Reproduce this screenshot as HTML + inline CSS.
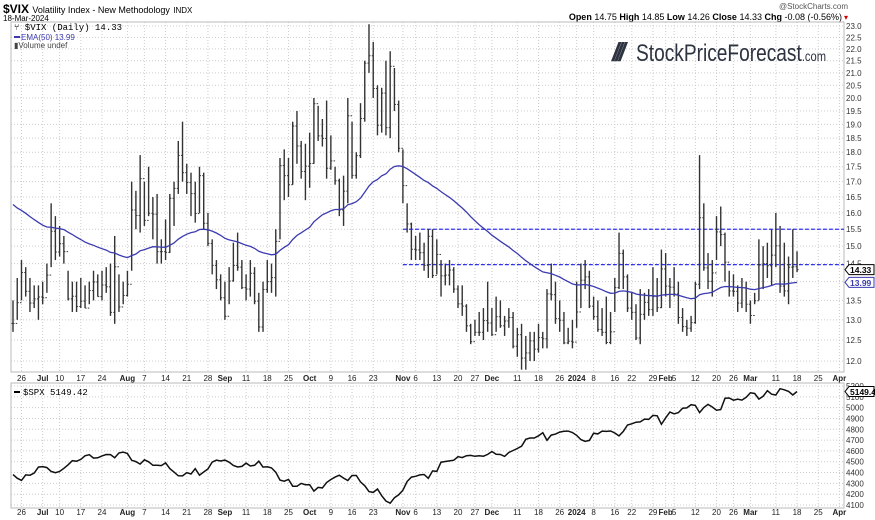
<!DOCTYPE html>
<html><head><meta charset="utf-8">
<style>
body{margin:0;background:#fff;}
svg{display:block;font-family:"Liberation Sans",sans-serif;}
</style></head>
<body>
<svg id="chart" width="875" height="520" viewBox="0 0 875 520">
  <rect x="0" y="0" width="875" height="520" fill="#fff"/>
  <text x="3" y="13" font-size="12" font-weight="bold" fill="#000">$VIX <tspan font-size="9" font-weight="normal">Volatility Index - New Methodology</tspan> <tspan font-size="8" font-weight="normal">INDX</tspan></text>
  <text x="3" y="21" font-size="8" fill="#000">18-Mar-2024</text>
  <text x="848" y="9" font-size="8" fill="#555" text-anchor="end">@StockCharts.com</text>
  <text x="842" y="20" font-size="9" fill="#000" text-anchor="end"><tspan font-weight="bold">Open</tspan> 14.75 <tspan font-weight="bold">High</tspan> 14.85 <tspan font-weight="bold">Low</tspan> 14.26 <tspan font-weight="bold">Close</tspan> 14.33 <tspan font-weight="bold">Chg</tspan> -0.08 (-0.56%)</text>
  <text x="848" y="20" font-size="8" fill="#c00" text-anchor="end">▾</text>
  <g id="grid"></g>
  <rect x="11" y="22" width="833" height="350" fill="none" stroke="#bbb"/>
  <rect x="11" y="383" width="833" height="125" fill="none" stroke="#bbb"/>
  <g>
    <text x="612" y="61" font-size="26" font-weight="bold" fill="#2d3340" font-style="italic" letter-spacing="-4">///</text>
    <text x="636" y="61" font-size="24" fill="#2d3340" textLength="190" lengthAdjust="spacingAndGlyphs">StockPriceForecast<tspan font-size="14">.com</tspan></text>
  </g>
  <g id="marks"></g>
  <text x="14" y="30" font-size="9" font-family="Liberation Mono, monospace" fill="#000">⑂ $VIX (Daily) 14.33</text>
  <line x1="14" y1="37" x2="20" y2="37" stroke="#3b3bb0" stroke-width="2"/>
  <text x="21" y="40" font-size="8" fill="#3b3bb0">EMA(50) 13.99</text>
  <text x="14" y="48" font-size="8" fill="#444">▮Volume undef</text>
  <line x1="14" y1="392" x2="20" y2="392" stroke="#000" stroke-width="2"/>
  <text x="23" y="395" font-size="9" font-family="Liberation Mono, monospace" fill="#000">$SPX 5149.42</text>
</svg>
<script>
const vixClose=[12.91,13.44,14.25,13.74,13.43,13.54,13.59,13.57,14.18,15.44,14.83,15.07,14.84,13.54,13.61,13.34,13.48,13.30,13.76,13.99,13.60,13.91,13.86,13.19,14.41,13.33,13.63,13.93,16.09,15.92,17.10,15.77,15.99,15.96,14.84,14.84,14.82,16.46,16.78,17.89,17.30,16.97,16.61,15.98,17.20,15.68,15.08,14.45,14.05,13.57,13.09,14.02,14.45,14.40,13.84,13.80,14.23,13.48,12.82,13.79,14.00,14.11,15.14,17.54,17.20,16.90,18.94,18.22,17.34,17.52,17.61,19.78,18.58,18.49,17.45,17.70,17.03,16.09,16.69,19.32,17.21,17.88,19.22,21.40,21.71,20.37,18.97,20.19,18.88,21.27,19.75,18.14,16.87,15.66,14.91,14.89,14.81,14.45,15.29,14.17,14.76,14.16,14.18,14.32,13.80,13.41,13.35,12.85,12.46,12.69,12.69,12.98,12.92,12.63,13.08,12.85,12.97,13.06,12.35,12.63,12.07,12.19,12.48,12.28,12.56,12.53,13.67,13.65,13.03,12.99,12.43,12.47,12.45,13.20,14.04,14.13,13.35,13.08,12.76,12.69,12.44,12.70,13.84,14.79,14.13,13.30,13.19,12.55,13.14,13.45,13.26,13.60,13.31,14.35,13.88,13.85,13.67,13.06,12.83,12.79,12.93,13.93,15.85,14.38,14.01,14.24,15.42,15.34,14.54,13.75,13.74,13.43,13.84,13.40,13.11,13.49,14.46,14.50,14.44,14.74,15.01,13.88,13.75,14.40,14.41,14.33];
const vixHigh=[13.5,14.1,14.6,14.4,14.1,13.9,13.9,14.0,14.5,16.3,15.9,15.6,15.3,14.3,14.0,14.0,14.1,13.9,14.0,14.3,14.2,14.3,14.4,14.5,15.3,14.2,14.0,14.3,17.0,16.7,17.9,17.0,17.5,16.5,16.6,15.2,15.8,16.6,17.0,18.4,19.1,17.6,17.3,17.0,17.5,17.3,16.0,15.2,14.6,14.2,14.0,14.4,15.1,15.4,14.6,14.2,14.6,14.4,13.7,14.0,14.6,14.5,15.5,17.8,18.1,17.8,19.1,19.5,18.4,18.3,18.7,20.0,19.7,19.2,19.9,18.6,17.5,17.1,17.2,20.0,19.1,18.0,19.8,21.5,23.08,22.3,20.5,20.4,21.5,21.9,21.2,19.9,18.1,16.3,15.7,15.3,15.4,15.1,15.5,15.5,15.2,14.6,14.5,14.6,14.4,13.9,13.9,13.4,12.9,13.0,13.2,13.3,14.0,13.3,13.6,13.5,13.1,13.3,13.2,12.8,12.9,12.6,12.7,12.7,12.9,12.7,13.8,14.5,14.0,13.5,13.2,12.8,13.0,14.0,14.5,14.6,14.3,13.6,13.5,13.3,13.6,13.2,14.1,15.4,14.9,14.2,13.7,13.4,13.8,13.7,13.8,14.4,14.1,14.9,14.8,14.1,14.4,14.0,13.3,13.0,13.1,14.0,17.9,16.3,14.8,14.6,15.9,16.2,15.4,14.3,14.2,13.9,14.1,14.0,13.5,13.7,15.2,15.0,15.1,15.5,16.0,15.6,15.1,14.7,15.5,14.85];
const vixLow=[12.7,13.0,13.5,13.6,13.2,13.3,13.0,13.4,13.7,14.4,14.6,14.7,14.5,13.5,13.2,13.2,13.3,13.3,13.4,13.5,13.6,13.5,13.7,13.1,12.9,13.2,13.4,13.6,14.3,15.5,15.4,15.6,15.9,15.2,14.5,14.5,14.6,14.8,15.6,16.6,17.0,16.6,15.9,15.7,16.0,15.5,15.0,14.2,13.8,13.5,13.0,13.4,14.0,14.3,13.8,13.5,13.6,13.4,12.7,12.7,13.7,13.7,13.6,15.2,16.4,16.5,16.9,17.6,17.1,16.4,16.8,17.6,18.4,18.2,17.1,17.4,16.9,15.9,15.6,16.3,17.1,17.1,17.8,19.1,21.0,20.0,18.6,18.7,18.6,18.5,19.5,18.0,16.3,15.4,14.6,14.6,14.6,14.3,14.1,14.1,14.2,13.6,13.9,13.9,13.7,13.3,13.1,12.7,12.4,12.6,12.6,12.5,12.7,12.6,12.7,12.8,12.6,12.8,12.3,12.1,11.8,11.8,12.0,12.0,12.2,12.3,12.3,13.5,12.9,12.7,12.4,12.4,12.3,12.8,13.3,13.8,13.3,13.0,12.7,12.6,12.4,12.4,13.2,13.8,13.8,13.2,13.0,12.5,12.4,13.0,13.1,13.1,13.2,13.3,13.6,13.3,13.6,12.9,12.7,12.6,12.7,12.9,13.8,14.3,13.8,13.6,14.6,15.0,14.0,13.6,13.6,13.2,13.3,13.2,12.9,13.4,13.5,13.8,14.1,13.9,14.4,13.7,13.6,13.4,14.1,14.26];
const spxClose=[4381,4348,4328,4378,4376,4396,4450,4455,4446,4411,4399,4410,4439,4472,4510,4505,4522,4555,4565,4534,4536,4554,4567,4566,4537,4582,4589,4576,4513,4501,4478,4518,4499,4467,4468,4464,4489,4437,4404,4370,4369,4399,4387,4436,4376,4405,4433,4497,4514,4507,4515,4496,4465,4451,4457,4487,4461,4467,4505,4450,4453,4443,4402,4330,4320,4337,4274,4274,4300,4288,4288,4229,4263,4258,4308,4336,4358,4376,4349,4327,4373,4373,4314,4278,4224,4217,4248,4186,4137,4117,4167,4194,4237,4317,4358,4365,4378,4382,4347,4415,4411,4496,4502,4508,4514,4547,4538,4556,4559,4550,4555,4551,4568,4595,4569,4567,4549,4585,4604,4622,4644,4707,4719,4719,4740,4768,4698,4746,4755,4774,4781,4783,4770,4743,4705,4689,4697,4764,4757,4783,4780,4784,4766,4739,4780,4840,4851,4865,4868,4894,4891,4928,4925,4846,4906,4959,4943,4954,4995,4998,5027,5021,4954,5001,5030,5006,4976,4982,5087,5089,5069,5078,5070,5096,5137,5131,5079,5105,5157,5124,5117,5175,5165,5150,5117,5149];
const xTickLabels=["26","Jul","10","17","24","Aug","7","14","21","28","Sep","11","18","25","Oct","9","16","23","Nov","6","13","20","27","Dec","11","18","26","2024","8","16","22","29","Feb","5","12","20","26","Mar","11","18","25","Apr"];
const xTickIndex=[2,7,11,16,21,27,31,36,41,46,50,55,60,65,70,75,80,85,92,95,100,105,109,113,119,124,129,133,137,142,146,151,154,156,161,166,170,174,180,185,190,195];
const xTickBold=[0,1,0,0,0,1,0,0,0,0,1,0,0,0,1,0,0,0,1,0,0,0,0,1,0,0,0,1,0,0,0,0,1,0,0,0,0,1,0,0,0,1];
const vixTicks=[12,12.5,13,13.5,14,14.5,15,15.5,16,16.5,17,17.5,18,18.5,19,19.5,20,20.5,21,21.5,22,22.5,23];
const spxTicks=[4100,4200,4300,4400,4500,4600,4700,4800,4900,5000,5100,5200];
const levels=[15.5,14.47];
const emaSeed=16.4;

const NS="http://www.w3.org/2000/svg";
const X0=13, DX=4.238;
const xS=i=>X0+i*DX;
const yV=v=>26+515*Math.log(23/v);
const yS=v=>386+(5200-v)*0.1082;
const grid=document.getElementById('grid'), marks=document.getElementById('marks');
function mk(tag,attrs,parent){const e=document.createElementNS(NS,tag);for(const k in attrs)e.setAttribute(k,attrs[k]);parent.appendChild(e);return e;}

vixTicks.forEach(v=>{
  const y=yV(v);
  const l=mk('line',{x1:11,x2:844,y1:y,y2:y,stroke:'#ccc','stroke-dasharray':'1,2'},grid);
  
  
  const t=mk('text',{x:846,y:y+3,'font-size':8,fill:'#333'},grid);
  t.textContent=v.toFixed(1);
  
  
});
spxTicks.forEach(v=>{
  const y=yS(v);
  const l=mk('line',{x1:11,x2:844,y1:y,y2:y,stroke:'#ccc','stroke-dasharray':'1,2'},grid);
  
  
  const t=mk('text',{x:846,y:y+3,'font-size':8,fill:'#333'},grid);
  t.textContent=v;
  
  
});
xTickLabels.forEach((lab,k)=>{
  const x=xS(xTickIndex[k]);
  if(x<844){
    const l1=mk('line',{x1:x,x2:x,y1:22,y2:372,stroke:'#ccc','stroke-dasharray':'1,2'},grid);
    
    
    const l2=mk('line',{x1:x,x2:x,y1:383,y2:508,stroke:'#ccc','stroke-dasharray':'1,2'},grid);
    
    
  }
  [381,515].forEach(yy=>{
    const t=mk('text',{x:x,y:yy,'font-size':8,'text-anchor':'middle',fill:'#222','font-weight':xTickBold[k]?'bold':'normal'},grid);
    t.textContent=lab;
    
    
  });
});

levels.forEach(v=>{
  const l=mk('line',{x1:xS(92),x2:844,y1:yV(v),y2:yV(v),stroke:'#3333ee','stroke-width':1.2,'stroke-dasharray':'4,2'},marks);
  
  
});

vixClose.forEach((c,i)=>{
  const x=xS(i);
  const o=i>0?vixClose[i-1]:c;
  const g=mk('g',{stroke:'#333','stroke-width':1.4},marks);
  
  
  mk('line',{x1:x,x2:x,y1:yV(vixHigh[i]),y2:yV(vixLow[i])},g);
  mk('line',{x1:x-1.5,x2:x,y1:yV(o),y2:yV(o),'stroke-width':1},g);
  mk('line',{x1:x,x2:x+1.5,y1:yV(c),y2:yV(c),'stroke-width':1},g);
});

let ema=emaSeed, a=2/51, pts=[];
vixClose.forEach((c,i)=>{ema=ema+a*(c-ema);pts.push(xS(i).toFixed(1)+','+yV(ema).toFixed(1));});
const emaLine=mk('polyline',{points:pts.join(' '),fill:'none',stroke:'#3b3bb0','stroke-width':1.3},marks);



const sp=mk('polyline',{points:spxClose.map((v,i)=>xS(i).toFixed(1)+','+yS(v).toFixed(1)).join(' '),fill:'none',stroke:'#111','stroke-width':1.5},marks);



function tag(y,txt,col,name){
  const g=mk('g',{},marks);
  
  
  mk('path',{d:`M845 ${y} l4 -5 h25 v10 h-25 z`,fill:'#fff',stroke:col},g);
  const t=mk('text',{x:850,y:y+3.5,'font-size':8.5,'font-weight':'bold',fill:col},g);
  t.textContent=txt;
}
tag(yV(vixClose[vixClose.length-1]),vixClose[vixClose.length-1].toFixed(2),'#000','vix-last-value-tag');
tag(yV(ema),'13.99','#3b3bb0','ema-last-value-tag');
tag(yS(spxClose[spxClose.length-1]),'5149.42','#000','spx-last-value-tag');
</script>
</body></html>
